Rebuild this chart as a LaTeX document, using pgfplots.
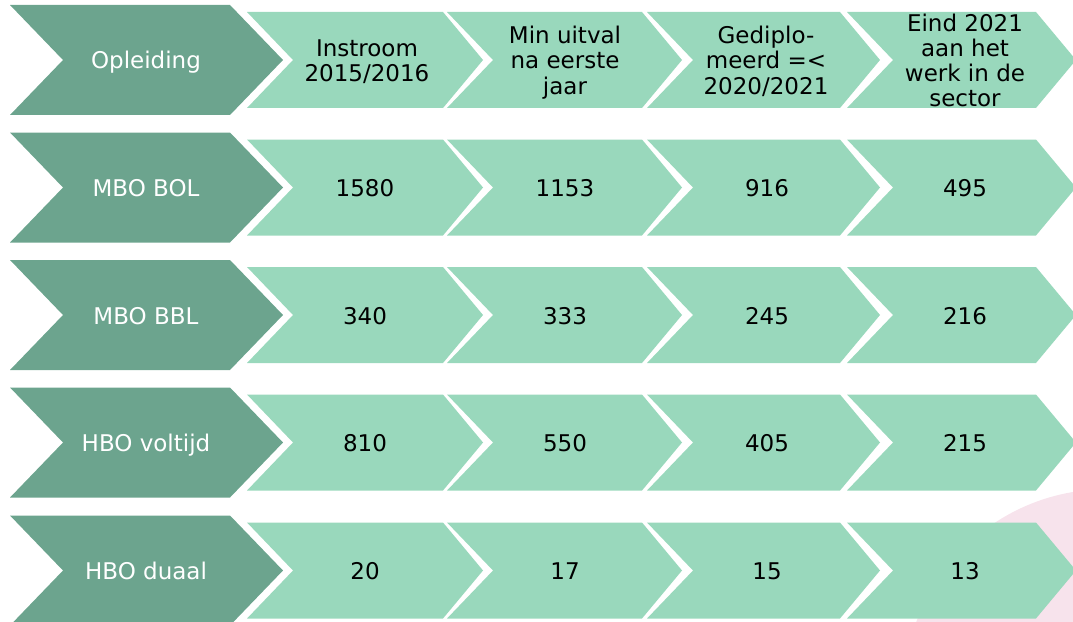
\documentclass[border=0pt]{standalone}
\usepackage{pgfplots}
\pgfplotsset{compat=1.18}
\usepackage{pgfplotstable}
\usepackage{fontspec}
\setmainfont{DejaVu Sans}
\definecolor{darkg}{HTML}{6CA48E}
\definecolor{lightg}{HTML}{99D8BC}
\definecolor{pinkc}{HTML}{F7E3EC}
\newcommand{\ff}{\fontsize{23bp}{25bp}\selectfont}
\pgfplotstableread{
x y v
365 187.5 1580
565 187.5 1153
767 187.5 916
965 187.5 495
365 315 340
565 315 333
767 315 245
965 315 216
365 442.5 810
565 442.5 550
767 442.5 405
965 442.5 215
365 570.5 20
565 570.5 17
767 570.5 15
965 570.5 13
}\values
\begin{document}
\begin{tikzpicture}
\begin{axis}[width=1073bp,height=622bp,scale only axis,
  xmin=0,xmax=1073,ymin=0,ymax=622,y dir=reverse,hide axis,clip=true]
\fill[pinkc] (axis cs:1106.6,692) circle[radius=202.8bp];
\pgfplotsforeachungrouped \yc in {60,187.5,315,442.5,570.5}{%
  \pgfmathsetmacro\ya{\yc-55}\pgfmathsetmacro\yb{\yc+55}%
  \edef\tmp{\noexpand\addplot[fill=darkg,draw=none] coordinates {(10,\ya) (230,\ya) (283,\yc) (230,\yb) (10,\yb) (63,\yc)};}\tmp
  \pgfmathsetmacro\ya{\yc-48}\pgfmathsetmacro\yb{\yc+48}%
  \edef\tmp{\noexpand\addplot[fill=lightg,draw=none] coordinates {(247,\ya) (443,\ya) (483,\yc) (443,\yb) (247,\yb) (293,\yc)};}\tmp
  \edef\tmp{\noexpand\addplot[fill=lightg,draw=none] coordinates {(447,\ya) (642,\ya) (682,\yc) (642,\yb) (447,\yb) (493,\yc)};}\tmp
  \edef\tmp{\noexpand\addplot[fill=lightg,draw=none] coordinates {(647,\ya) (840,\ya) (880,\yc) (840,\yb) (647,\yb) (693,\yc)};}\tmp
  \edef\tmp{\noexpand\addplot[fill=lightg,draw=none] coordinates {(847,\ya) (1036,\ya) (1076,\yc) (1036,\yb) (847,\yb) (893,\yc)};}\tmp
}
\addplot[draw=none,mark=none,nodes near coords,point meta=explicit symbolic,
  nodes near coords style={anchor=base,font=\ff,text=black,yshift=-9bp}]
  table[x=x,y=y,meta=v]{\values};
% row labels
\node[anchor=base,font=\ff,text=white] at (axis cs:146,69) {Opleiding};
\node[anchor=base,font=\ff,text=white] at (axis cs:146,196.5) {MBO BOL};
\node[anchor=base,font=\ff,text=white] at (axis cs:146,324) {MBO BBL};
\node[anchor=base,font=\ff,text=white] at (axis cs:146,451.5) {HBO voltijd};
\node[anchor=base,font=\ff,text=white] at (axis cs:146,579.5) {HBO duaal};
% header labels
\node[anchor=base,font=\ff] at (axis cs:367,56.5) {Instroom};
\node[anchor=base,font=\ff] at (axis cs:367,81.5) {2015/2016};
\node[anchor=base,font=\ff] at (axis cs:565,44) {Min uitval};
\node[anchor=base,font=\ff] at (axis cs:565,69) {na eerste};
\node[anchor=base,font=\ff] at (axis cs:565,94) {jaar};
\node[anchor=base,font=\ff] at (axis cs:766,44) {Gediplo-};
\node[anchor=base,font=\ff] at (axis cs:766,69) {meerd =<};
\node[anchor=base,font=\ff] at (axis cs:766,94) {2020/2021};
\node[anchor=base,font=\ff] at (axis cs:965,31.5) {Eind 2021};
\node[anchor=base,font=\ff] at (axis cs:965,56.5) {aan het};
\node[anchor=base,font=\ff] at (axis cs:965,81.5) {werk in de};
\node[anchor=base,font=\ff] at (axis cs:965,106.5) {sector};
\coordinate (SW) at (rel axis cs:0,0);
\coordinate (NE) at (rel axis cs:1,1);
\end{axis}
\pgfresetboundingbox
\path[use as bounding box] (SW) rectangle (NE);
\end{tikzpicture}
\end{document}
